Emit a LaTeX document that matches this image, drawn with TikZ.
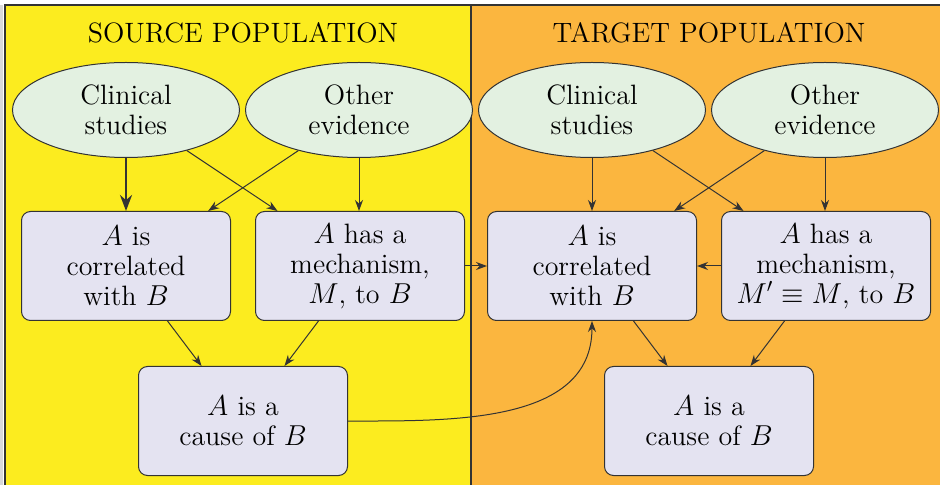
\documentclass[tikz,border=0pt]{standalone}
\usetikzlibrary{shapes.geometric,arrows.meta}
\definecolor{srcyellow}{HTML}{FCEC1F}
\definecolor{tgtorange}{HTML}{FBB63F}
\definecolor{ellfill}{HTML}{E3F1E1}
\definecolor{boxfill}{HTML}{E4E3F1}
\definecolor{edge}{HTML}{333333}
\begin{document}
\begin{tikzpicture}[x=0.5pt,y=-0.5pt,
  font=\fontsize{14}{15}\selectfont,
  evid/.style={ellipse,draw=edge,fill=ellfill,line width=0.5pt,minimum width=113.5pt,minimum height=47.5pt,align=center,inner sep=0pt},
  claim/.style={rectangle,rounded corners=4.5pt,draw=edge,fill=boxfill,line width=0.5pt,minimum width=104.5pt,minimum height=54.5pt,align=center,inner sep=0pt},
  title/.style={anchor=base,inner sep=0pt},
  conn/.style={draw=edge,line width=0.5pt,-{Stealth[length=5.5pt,width=4pt]}},
  thickconn/.style={draw=edge,line width=1.4pt,-{Stealth[length=8pt,width=6pt]}}
]
\useasboundingbox (0,0) rectangle (940,485);
\fill[white] (0,0) rectangle (940,485);
\fill[black!15] (0,5) rectangle (3,485);
\begin{scope}
\clip (0,0) rectangle (940,485);
\draw[edge,fill=srcyellow,line width=0.6pt] (5,5) rectangle (471,500);
\draw[edge,fill=tgtorange,line width=0.6pt] (471,5) rectangle (950,500);
\end{scope}

\node[title] (tsrc) at (243,43) {SOURCE POPULATION};
\node[title] (ttgt) at (709,43) {TARGET POPULATION};

% source
\node[evid] (scs) at (126,110) {Clinical\\studies};
\node[evid] (soe) at (359,110) {Other\\evidence};
\node[claim] (scor) at (126,266) {$A$ is\\correlated\\with $B$};
\node[claim] (smec) at (360,266) {$A$ has a\\mechanism,\\$M$, to $B$};
\node[claim] (scau) at (243,421) {$A$ is a\\cause of $B$};

% target
\node[evid] (tcs) at (592,110) {Clinical\\studies};
\node[evid] (toe) at (825,110) {Other\\evidence};
\node[claim] (tcor) at (592,266) {$A$ is\\correlated\\with $B$};
\node[claim] (tmec) at (826,266) {$A$ has a\\mechanism,\\$M'\equiv M$, to $B$};
\node[claim] (tcau) at (709,421) {$A$ is a\\cause of $B$};

\draw[thickconn] (scs) -- (scor);
\draw[conn] (scs) -- (smec);
\draw[conn] (soe) -- (scor);
\draw[conn] (soe.south) -- (smec.north -| soe.south);
\draw[conn] (scor) -- (scau);
\draw[conn] (smec) -- (scau);

\draw[conn] (tcs) -- (tcor);
\draw[conn] (tcs) -- (tmec);
\draw[conn] (toe) -- (tcor);
\draw[conn] (toe.south) -- (tmec.north -| toe.south);
\draw[conn] (tcor) -- (tcau);
\draw[conn] (tmec) -- (tcau);

\draw[conn] (smec) -- (tcor);
\draw[conn] (tmec) -- (tcor);
\draw[conn] (scau.east) to[out=0,in=-90] (tcor.south);
\end{tikzpicture}
\end{document}
